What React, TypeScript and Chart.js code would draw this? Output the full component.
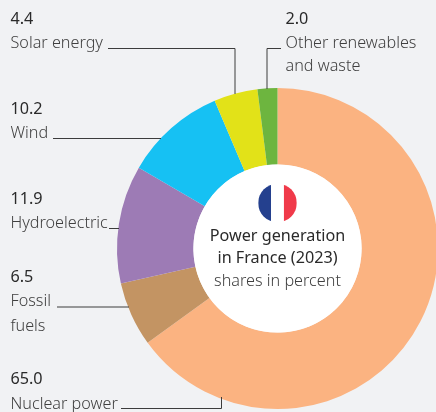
import React, { useEffect, useRef } from "react";
import { Chart, registerables } from "chart.js";

Chart.register(...registerables);

const categories = ["Nuclear power", "Fossil fuels", "Hydroelectric", "Wind", "Solar energy", "Other renewables and waste"];
const shares = [65.0, 6.5, 11.9, 10.2, 4.4, 2.0];
const valueLabels = ["65.0", "6.5", "11.9", "10.2", "4.4", "2.0"];
const colors = ["#fbb381", "#c39463", "#9d7bb5", "#16c1f3", "#e2e218", "#6db53f"];
const centerLines = ["Power generation", "in France (2023)", "shares in percent"];

// text placement: [text, x, baseline y, kind]
const labelTexts: [string, number, number, string][] = [
  [valueLabels[4], 10.5, 24, "v"],
  ["Solar energy", 10.5, 48, "l"],
  [valueLabels[5], 285.5, 24, "v"],
  ["Other renewables", 285.5, 48, "l"],
  ["and waste", 285.5, 71, "l"],
  [valueLabels[3], 10.5, 114, "v"],
  ["Wind", 10.5, 138, "l"],
  [valueLabels[2], 10.5, 204, "v"],
  ["Hydroelectric", 10.5, 228, "l"],
  [valueLabels[1], 10.5, 282, "v"],
  ["Fossil", 10.5, 306, "l"],
  ["fuels", 10.5, 331, "l"],
  [valueLabels[0], 10.5, 384, "v"],
  ["Nuclear power", 10.5, 409, "l"],
];

const leaders: number[][][] = [
  [[108, 48.5], [235, 48.5], [235, 94]],
  [[281, 48.5], [267, 48.5], [267, 89]],
  [[53, 138.5], [161, 138.5]],
  [[109, 228.5], [119, 228.5]],
  [[57, 307], [129, 307]],
  [[121, 408.5], [221.5, 408.5], [221.5, 397]],
];

const FONT = '"Noto Sans", sans-serif';

const overlay = {
  id: "overlay",
  afterDatasetsDraw(chart: any) {
    const { ctx } = chart;
    const arc = chart.getDatasetMeta(0).data[0];
    const cx = arc.x;
    const cy = arc.y;
    const r = arc.innerRadius;
    ctx.save();
    ctx.beginPath();
    ctx.arc(cx, cy, r, 0, Math.PI * 2);
    ctx.fillStyle = "#ffffff";
    ctx.fill();

    // flag
    const fx = cx;
    const fy = cy - 45.5;
    const fr = 19.3;
    ctx.save();
    ctx.beginPath();
    ctx.arc(fx, fy, fr, 0, Math.PI * 2);
    ctx.clip();
    ctx.fillStyle = "#24408e";
    ctx.fillRect(fx - fr, fy - fr, (fr * 2) / 3, fr * 2);
    ctx.fillStyle = "#ffffff";
    ctx.fillRect(fx - fr / 3, fy - fr, (fr * 2) / 3, fr * 2);
    ctx.fillStyle = "#f03a4a";
    ctx.fillRect(fx + fr / 3, fy - fr, (fr * 2) / 3, fr * 2);
    ctx.restore();

    // leaders
    ctx.strokeStyle = "#3c3c3c";
    ctx.lineWidth = 1;
    leaders.forEach((pts) => {
      ctx.beginPath();
      pts.forEach((p, i) => (i ? ctx.lineTo(p[0], p[1]) : ctx.moveTo(p[0], p[1])));
      ctx.stroke();
    });

    // labels
    ctx.textBaseline = "alphabetic";
    ctx.textAlign = "left";
    labelTexts.forEach(([t, x, y, k]) => {
      ctx.font = k === "v" ? `400 16.2px ${FONT}` : `300 16.2px ${FONT}`;
      ctx.fillStyle = k === "v" ? "#2a2a2a" : "#404040";
      ctx.fillText(t, x, y);
    });

    // centre title
    ctx.textAlign = "center";
    ctx.font = `400 16.2px ${FONT}`;
    ctx.fillStyle = "#2a2a2a";
    ctx.fillText(centerLines[0], cx, 240.5);
    ctx.fillText(centerLines[1], cx, 263);
    ctx.font = `300 16.2px ${FONT}`;
    ctx.fillStyle = "#404040";
    ctx.fillText(centerLines[2], cx, 286);
    ctx.restore();
  },
};

export default function App() {
  const ref = useRef<HTMLCanvasElement>(null);
  useEffect(() => {
    const chart = new Chart(ref.current!, {
      type: "doughnut",
      data: {
        labels: categories,
        datasets: [{ data: shares, backgroundColor: colors, borderWidth: 0, hoverOffset: 0 }],
      },
      options: {
        animation: false,
        responsive: false,
        cutout: "52.4%",
        layout: { padding: { left: 117, right: 2, top: 88, bottom: 3 } },
        plugins: { legend: { display: false }, tooltip: { enabled: false } },
      },
      plugins: [overlay],
    });
    return () => chart.destroy();
  }, []);
  return (
    <div style={{ position: "fixed", left: 0, top: 0, width: 436, height: 412, overflow: "hidden", background: "#f1f2f4" }}>
      <canvas ref={ref} width={440} height={412} style={{ display: "block", width: 440, height: 412 }} />
    </div>
  );
}
